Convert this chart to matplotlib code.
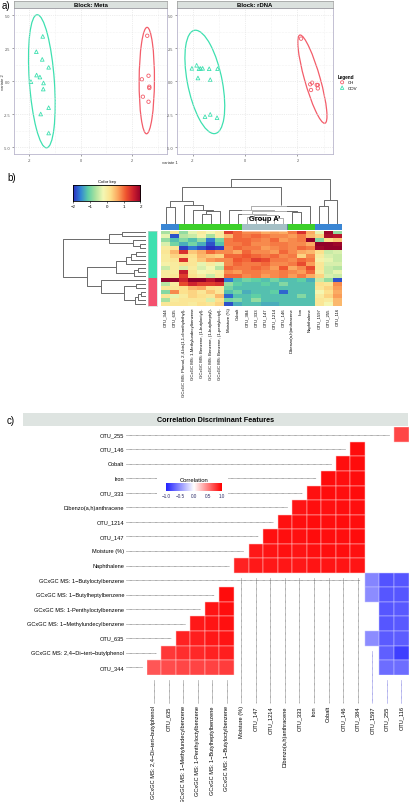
import numpy as np
import matplotlib
matplotlib.use('Agg')
import matplotlib.pyplot as plt
from matplotlib.patches import Ellipse, Rectangle
from matplotlib.colors import LinearSegmentedColormap, ListedColormap, Normalize
from matplotlib.transforms import blended_transform_factory

plt.rcParams['font.family'] = ['Liberation Sans', 'DejaVu Sans']

W, H = 410, 803

# ---------------- data : panel a ----------------
meta_cov_x = [-1.48, -1.73, -1.50, -1.25, -1.72, -1.59, -1.45, -1.94, -1.46, -1.25, -1.56, -1.25]
meta_cov_y = [3.38, 2.22, 1.64, 1.04, 0.45, 0.30, -0.15, -0.05, -0.61, -2.02, -2.50, -3.94]
meta_ch_x = [2.59, 2.64, 2.38, 2.67, 2.67, 2.42, 2.64]
meta_ch_y = [3.43, 0.40, 0.13, -0.43, -0.53, -1.19, -1.57]
rdna_cov_x = [-2.03, -1.85, -1.76, -1.62, -1.37, -1.05, -1.80, -1.33, -1.53, -1.33, -1.07, -1.70]
rdna_cov_y = [0.96, 1.19, 0.93, 0.96, 0.93, 0.93, 0.23, 0.10, -2.70, -2.53, -2.78, 0.95]
rdna_ch_x = [2.14, 2.49, 2.56, 2.74, 2.78, 2.52, 2.78]
rdna_ch_y = [3.21, -0.25, -0.13, -0.30, -0.56, -0.68, -0.30]

# ---------------- data : panel b ----------------
hm_cols = ['OTU_344', 'OTU_635', 'GCxGC MS: Phenol, 2,4-bis(1,1-dimethylethyl)-',
           'GCxGC MS: 1-Methylundecylbenzene', 'GCxGC MS: Benzene, (1-butyloctyl)-',
           'GCxGC MS: Benzene, (1-butylheptyl)-', 'GCxGC MS: Benzene, (1-pentyloctyl)-',
           'Moisture (%)', 'Cobalt', 'OTU_384', 'OTU_333', 'OTU_147', 'OTU_1214', 'OTU_146',
           'Dibenzo(a,h)anthracene', 'Iron', 'Naphthalene', 'OTU_1597', 'OTU_255', 'OTU_116']
hm_col_group = [0, 0, 1, 1, 1, 1, 1, 1, 1, 2, 2, 2, 2, 2, 1, 1, 1, 0, 0, 0]
hm_row_group = ['COV'] * 12 + ['CH'] * 7
hm_values = [
    [-0.7, 0.1, -0.8, -0.3, 0.0, -0.2, 0.0, 1.3, 1.0, 0.8, 0.8, 0.6, 0.7, 0.6, 0.9, 1.4, 0.6, -0.3, 1.9, -0.8],
    [-0.3, -1.8, -0.6, -0.5, -0.1, -0.7, 0.0, 0.5, 1.0, 0.9, 1.0, 0.9, 0.8, 0.8, 0.7, 0.9, 0.5, 0.3, 1.8, 1.7],
    [-0.8, -1.2, -0.9, -1.2, -0.8, -1.6, -1.0, 0.9, 1.0, 1.0, 0.9, 0.8, 1.0, 0.7, 0.8, 0.9, 2.0, -0.9, 0.2, 0.4],
    [-0.4, -1.0, -1.3, -1.0, -1.3, -1.8, -1.2, 0.9, 0.9, 1.0, 0.8, 0.8, 0.9, 0.9, 0.8, 0.8, 0.6, 2.0, 2.0, 1.9],
    [0.0, 0.1, -1.9, -1.6, -1.8, -2.0, -1.9, 0.8, 1.0, 0.9, 0.9, 0.7, 0.8, 0.9, 0.8, 1.0, 0.9, 1.9, 2.0, 2.0],
    [0.1, 0.5, 1.4, 0.4, 0.6, 1.0, 0.8, 0.8, 0.6, 1.0, 0.8, 0.8, 0.7, 1.0, 0.8, 0.6, 0.5, 0.2, -0.5, -0.4],
    [0.0, 0.3, 0.3, 0.2, 0.5, 0.4, 0.3, 1.0, 1.0, 1.1, 1.0, 0.9, 1.0, 0.8, 0.9, 0.3, 0.8, 0.0, -0.4, -0.5],
    [0.0, 0.1, 1.4, 0.1, 0.4, 0.7, 0.8, 0.8, 1.1, 1.0, 1.3, 1.2, 0.9, 0.9, 0.8, 1.0, 0.9, -0.1, -0.3, -0.5],
    [-0.1, 0.0, 0.2, 0.1, -0.3, 0.0, -0.3, 0.8, 1.0, 0.9, 0.9, 1.0, 0.8, 0.8, 0.9, 1.2, 0.7, 0.1, -0.4, -0.4],
    [-0.5, 0.0, -0.4, 0.0, -0.4, -0.2, -0.6, 1.0, 0.9, 0.9, 1.0, 0.9, 0.7, 1.1, 0.6, 0.8, 1.2, 0.1, -0.5, -0.6],
    [0.0, 0.0, 1.6, 0.1, -0.2, -0.1, 0.0, 0.8, 0.7, 0.9, 0.9, 0.8, 0.8, 0.9, 0.8, 0.7, 1.0, 0.0, -0.5, -0.3],
    [0.0, 0.1, 1.3, 0.2, 0.0, -0.5, 0.1, 1.0, 1.0, 0.8, 0.9, 0.7, 0.8, 0.9, 0.7, 0.9, 0.6, 0.3, -0.4, -0.5],
    [2.0, 2.0, 1.5, 2.2, 2.0, 1.7, 2.0, -1.6, -1.2, -1.0, -1.1, -1.2, -1.0, -1.2, -1.2, -1.1, -1.3, -0.5, -0.8, -1.8],
    [-0.6, 0.0, 1.2, 1.5, 1.3, 1.3, 1.4, -0.8, -1.1, -1.2, -1.2, -1.1, -1.2, -0.9, -1.2, -1.2, -1.2, 0.2, 0.1, 0.8],
    [0.1, 0.1, 0.2, 0.5, 0.6, 0.2, 0.1, -1.0, -1.2, -1.2, -1.2, -1.2, -1.2, -1.2, -1.2, -1.2, -1.2, 0.1, 0.3, 0.7],
    [-0.9, 0.8, 0.2, 0.3, 0.1, 0.4, 0.1, -1.2, -1.0, -1.3, -1.2, -1.2, -1.1, -1.7, -1.2, -1.2, -1.2, -0.2, 0.2, 0.6],
    [0.1, -0.3, 0.0, 0.3, 0.2, 0.1, 0.5, -1.7, -1.2, -1.2, -1.1, -1.2, -1.2, -1.2, -1.2, -0.9, -1.2, 0.0, 0.3, 0.7],
    [-0.7, 0.0, 0.1, 0.1, 0.1, -0.4, 0.2, -1.0, -0.9, -1.2, -0.8, -1.2, -1.2, -1.2, -1.2, -1.2, -1.2, 0.1, 0.0, 0.5],
    [0.1, 0.1, 0.1, 0.0, 0.2, 0.1, 0.3, -1.8, -1.3, -1.2, -1.2, -1.3, -1.3, -1.2, -1.2, -1.2, -1.2, 0.1, -0.2, 0.5],
]
# dendrograms: (child a, child b, height); leaves 0..n-1, merged nodes n, n+1, ...
col_tree = [(4, 5, 0.22), (20, 6, 0.27), (3, 21, 0.31), (2, 22, 0.41), (0, 1, 0.37),
            (24, 23, 0.50), (10, 11, 0.11), (9, 26, 0.15), (12, 13, 0.13), (27, 28, 0.19),
            (8, 29, 0.22), (14, 15, 0.25), (30, 31, 0.27), (7, 32, 0.30), (33, 16, 0.385),
            (25, 34, 0.815), (17, 18, 0.385), (36, 19, 0.533), (35, 37, 1.0)]
row_tree = [(0, 1, 0.29), (3, 4, 0.08), (2, 20, 0.16), (19, 21, 0.45), (5, 6, 0.12),
            (23, 7, 0.18), (24, 8, 0.25), (9, 10, 0.10), (26, 11, 0.15), (25, 27, 0.37),
            (13, 14, 0.12), (15, 16, 0.06), (30, 17, 0.10), (31, 18, 0.14), (29, 32, 0.27),
            (12, 33, 0.55), (28, 34, 0.71), (22, 35, 1.0)]

# ---------------- data : panel c ----------------
cr_rows = ['OTU_255', 'OTU_146', 'Cobalt', 'Iron', 'OTU_333', 'Dibenzo(a,h)anthracene',
           'OTU_1214', 'OTU_147', 'Moisture (%)', 'Naphthalene',
           'GCxGC MS: 1\u2212Butyloctylbenzene', 'GCxGC MS: 1\u2212Butylheptylbenzene',
           'GCxGC MS: 1-Penthyloctylbenzene', 'GCxGC MS: 1\u2212Methylundecylbenzene',
           'OTU_635', 'GCxGC MS: 2,4\u2212Di\u2212tert\u2212butylphenol', 'OTU_344']
cr_cols = ['GCxGC MS: 2,4\u2212Di\u2212tert\u2212butylphenol', 'OTU_635',
           'GCxGC MS: 1\u2212Methylundecylbenzene', 'GCxGC MS: 1-Penthyloctylbenzene',
           'GCxGC MS: 1\u2212Butylheptylbenzene', 'GCxGC MS: 1\u2212Butyloctylbenzene',
           'Moisture (%)', 'OTU_147', 'OTU_1214', 'Dibenzo(a,h)anthracene', 'OTU_333', 'Iron',
           'Cobalt', 'OTU_146', 'OTU_384', 'OTU_1597', 'OTU_255', 'OTU_116']
_ = np.nan
cr_values = [
    [_, _, _, _, _, _, _, _, _, _, _, _, _, _, _, _, _, 0.72],
    [_, _, _, _, _, _, _, _, _, _, _, _, _, _, 0.95, _, _, _],
    [_, _, _, _, _, _, _, _, _, _, _, _, _, 0.94, 0.95, _, _, _],
    [_, _, _, _, _, _, _, _, _, _, _, _, 0.95, 0.94, 0.95, _, _, _],
    [_, _, _, _, _, _, _, _, _, _, _, 0.93, 0.95, 0.94, 0.95, _, _, _],
    [_, _, _, _, _, _, _, _, _, _, 0.92, 0.94, 0.93, 0.94, 0.94, _, _, _],
    [_, _, _, _, _, _, _, _, _, 0.93, 0.94, 0.95, 0.94, 0.95, 0.94, _, _, _],
    [_, _, _, _, _, _, _, _, 0.93, 0.94, 0.93, 0.95, 0.94, 0.94, 0.95, _, _, _],
    [_, _, _, _, _, _, _, 0.90, 0.92, 0.93, 0.92, 0.93, 0.94, 0.94, 0.93, _, _, _],
    [_, _, _, _, _, _, 0.86, 0.90, 0.90, 0.91, 0.90, 0.92, 0.92, 0.92, 0.92, _, _, _],
    [_, _, _, _, _, _, _, _, _, _, _, _, _, _, _, -0.55, -0.78, -0.76],
    [_, _, _, _, _, 0.95, _, _, _, _, _, _, _, _, _, -0.52, -0.76, -0.76],
    [_, _, _, _, 0.92, 0.94, _, _, _, _, _, _, _, _, _, _, -0.76, -0.75],
    [_, _, _, 0.90, 0.92, 0.93, _, _, _, _, _, _, _, _, _, _, -0.76, -0.75],
    [_, _, 0.86, 0.88, 0.90, 0.92, _, _, _, _, _, _, _, _, _, -0.52, -0.74, -0.73],
    [_, 0.78, 0.82, 0.84, 0.86, 0.88, _, _, _, _, _, _, _, _, _, _, -0.72, -0.86],
    [0.66, 0.70, 0.72, 0.73, 0.74, 0.76, _, _, _, _, _, _, _, _, _, _, -0.66, -0.66],
]

C_CH = '#f35d6a'
C_COV = '#3ee0b0'


def box(x0, y0, x1, y1):
    return [x0 / W, 1 - y1 / H, (x1 - x0) / W, (y1 - y0) / H]


def fig_xy(x, y):
    return x / W, 1 - y / H


def conf_ellipse(ax, x, y, color):
    x = np.asarray(x)
    y = np.asarray(y)
    vals, vecs = np.linalg.eigh(np.cov(x, y))
    t = np.sqrt(5.991)
    ang = np.degrees(np.arctan2(vecs[1, 1], vecs[0, 1]))
    ax.add_patch(Ellipse((x.mean(), y.mean()), 2 * t * np.sqrt(vals[1]), 2 * t * np.sqrt(vals[0]),
                         angle=ang, fill=False, ec=color, lw=0.9))


def draw_tree(ax, merges, n, vertical=True, color='#6a6a6a'):
    pos = {i: i + 0.5 for i in range(n)}
    hgt = {i: 0.0 for i in range(n)}
    for k, (a, b, h) in enumerate(merges):
        xs = [pos[a], pos[a], pos[b], pos[b]]
        ys = [hgt[a], h, h, hgt[b]]
        if vertical:
            ax.plot(xs, ys, color=color, lw=0.7, solid_capstyle='butt')
        else:
            ax.plot(ys, xs, color=color, lw=0.7, solid_capstyle='butt')
        pos[n + k] = (pos[a] + pos[b]) / 2
        hgt[n + k] = h


fig = plt.figure(figsize=(W / 100, H / 100), dpi=100)

# ======================= panel a =======================
blocks = [('Block: Meta', meta_cov_x, meta_cov_y, meta_ch_x, meta_ch_y, 14, 167),
          ('Block: rDNA', rdna_cov_x, rdna_cov_y, rdna_ch_x, rdna_ch_y, 177, 333)]
for name, cx, cy, hx, hy, x0, x1 in blocks:
    ax = fig.add_axes(box(x0, 9.3, x1, 155))
    ax.set_xlim(-2.6, 3.36)
    ax.set_ylim(-5.53, 5.51)
    ax.set_xticks([-2, 0, 2])
    ax.set_xticklabels(['-2', '0', '2'])
    ax.set_yticks([-5, -2.5, 0, 2.5, 5])
    ax.set_yticklabels(['-5.0', '-2.5', '0.0', '2.5', '5.0'])
    ax.set_xticks([-1, 1, 3], minor=True)
    ax.set_yticks([-3.75, -1.25, 1.25, 3.75], minor=True)
    ax.grid(True, which='major', color='#dcdcdc', lw=0.5, ls=':')
    ax.grid(True, which='minor', color='#e8e8e8', lw=0.4, ls=':')
    ax.tick_params(which='both', labelsize=2.8, length=1.2, width=0.4, pad=1.5,
                   colors='#555555')
    ax.tick_params(which='minor', length=0)
    for s in ax.spines.values():
        s.set_color('#b9b6cc')
        s.set_linewidth(0.6)
    ax.scatter(cx, cy, marker='^', facecolors='none', edgecolors=C_COV, s=7, lw=0.6)
    ax.scatter(hx, hy, marker='o', facecolors='none', edgecolors=C_CH, s=6, lw=0.6)
    conf_ellipse(ax, cx, cy, C_COV)
    conf_ellipse(ax, hx, hy, C_CH)
    st = fig.add_axes(box(x0, 2, x1, 9.3))
    st.set_facecolor('#dbe1de')
    st.set_xticks([])
    st.set_yticks([])
    for s in st.spines.values():
        s.set_color('#9a9a9a')
        s.set_linewidth(0.5)
    st.text(0.5, 0.5, name, ha='center', va='center', fontsize=4.3, fontweight='bold',
            transform=st.transAxes)

fig.text(*fig_xy(170, 163), 'variate 1', fontsize=3, ha='center', va='center', color='#333333')
fig.text(*fig_xy(3, 82), 'variate 2', fontsize=3, ha='center', va='center', rotation=90,
         color='#333333')
fig.text(*fig_xy(2, 6), 'a)', fontsize=7, ha='left', va='center')

lg = fig.add_axes(box(336, 74, 370, 92))
lg.axis('off')
lg.set_xlim(0, 1)
lg.set_ylim(3, 0)
lg.text(0.05, 0.6, 'Legend', fontsize=3.3, fontweight='bold', va='center')
lg.scatter([0.18], [1.55], marker='o', facecolors='none', edgecolors=C_CH, s=5, lw=0.6)
lg.scatter([0.18], [2.45], marker='^', facecolors='none', edgecolors=C_COV, s=6, lw=0.6)
lg.text(0.34, 1.55, 'CH', fontsize=3.2, va='center')
lg.text(0.34, 2.45, 'COV', fontsize=3.2, va='center')

# ======================= panel b =======================
fig.text(*fig_xy(7, 178), 'b)', fontsize=7, ha='left', va='center')

hm_cmap = LinearSegmentedColormap.from_list(
    'key', ['#2c2cc0', '#3184d6', '#5fcfa6', '#aee3a0', '#f4f8b4', '#fde08b', '#fba35c',
            '#f0562f', '#cc1f2e', '#92002a'])

axH = fig.add_axes(box(161, 231.5, 341.7, 306.5))
axH.imshow(np.array(hm_values), aspect='auto', cmap=hm_cmap, vmin=-2, vmax=2,
           interpolation='nearest')
axH.set_yticks([])
axH.set_xticks(range(len(hm_cols)))
axH.set_xticklabels(hm_cols, rotation=90, fontsize=3.1)
axH.tick_params(axis='x', length=0, pad=1.2)
for s in axH.spines.values():
    s.set_visible(False)

group_cols = ListedColormap(['#3a86d4', '#3ccf2a', '#5c8d98'])
axCB = fig.add_axes(box(161, 224.7, 341.7, 230.6))
axCB.imshow(np.array([hm_col_group]), aspect='auto', cmap=group_cols, vmin=-0.5, vmax=2.5,
            interpolation='nearest')
axCB.axis('off')

axRB = fig.add_axes(box(147.7, 231.5, 156.7, 306.5))
row_idx = [[0 if g == 'COV' else 1] for g in hm_row_group]
axRB.imshow(np.array(row_idx), aspect='auto', cmap=ListedColormap([C_COV, '#f4506e']),
            vmin=-0.5, vmax=1.5, interpolation='nearest')
axRB.set_xticks([])
axRB.set_yticks([])
for s in axRB.spines.values():
    s.set_color('#d0d0d0')
    s.set_linewidth(0.4)

axCD = fig.add_axes(box(161, 179.5, 341.7, 224.7))
draw_tree(axCD, col_tree, len(hm_cols), vertical=True)
axCD.set_xlim(0, len(hm_cols))
axCD.set_ylim(0, 1.0)
axCD.axis('off')

axRD = fig.add_axes(box(63, 231.5, 146.5, 306.5))
draw_tree(axRD, row_tree, len(hm_row_group), vertical=False)
axRD.set_xlim(1.0, 0)
axRD.set_ylim(len(hm_row_group), 0)
axRD.axis('off')

# Group A' highlight
tr = blended_transform_factory(axH.transData, fig.transFigure)
y_top = 1 - 206 / H
y_bot = 1 - 233 / H
fig.add_artist(Rectangle((8.5, y_bot), 5, y_top - y_bot, transform=tr, facecolor='white',
                         alpha=0.45, edgecolor='none', zorder=5))
fig.text(11, 1 - 219.5 / H, "Group A'", transform=tr, fontsize=5.4, fontweight='bold',
         ha='center', va='center', zorder=6)

# color key
axK = fig.add_axes(box(73.3, 186, 140.5, 202))
axK.imshow(np.linspace(-2, 2, 256)[None, :], aspect='auto', cmap=hm_cmap, vmin=-2, vmax=2,
           extent=[-2, 2, 0, 1])
axK.set_yticks([])
axK.set_xticks([-2, -1, 0, 1, 2])
axK.set_xticklabels(['\u22122', '\u22121', '0', '1', '2'])
axK.tick_params(axis='x', labelsize=3.2, length=1.5, width=0.4, pad=1)
for s in axK.spines.values():
    s.set_linewidth(0.6)
axK.set_title('Color key', fontsize=3.2, pad=2)

# ======================= panel c =======================
fig.text(*fig_xy(7, 421), 'c)', fontsize=7, ha='left', va='center')
tt = fig.add_axes(box(23, 414, 408, 427))
tt.set_facecolor('#dee4e1')
tt.set_xticks([])
tt.set_yticks([])
for s in tt.spines.values():
    s.set_visible(False)
tt.text(0.5, 0.5, 'Correlation Discriminant Features', ha='center', va='center',
        fontsize=5.2, fontweight='bold', transform=tt.transAxes)

cr_cmap = LinearSegmentedColormap.from_list('cr', ['#2222ff', '#ffffff', '#ff0000'])
cr_norm = Normalize(-1, 1)
nr, nc = len(cr_rows), len(cr_cols)
CV = np.array(cr_values, dtype=float)
valid = ~np.isnan(CV)
axC = fig.add_axes(box(146.7, 428.3, 408.6, 675.7))
for i in range(nr):
    for j in range(nc):
        if valid[i, j]:
            axC.add_patch(Rectangle((j, i), 1, 1, facecolor=cr_cmap(cr_norm(CV[i, j])),
                                    edgecolor='#ffc8c8' if CV[i, j] > 0 else '#c8c8ff',
                                    lw=0.35))
axC.set_xlim(0, nc)
axC.set_ylim(nr, 0)
axC.axis('off')

for i, lab in enumerate(cr_rows):
    axC.text(-1.56, i + 0.5, lab, ha='right', va='center', fontsize=4.1, clip_on=False)
    first = np.argmax(valid[i])
    axC.plot([-1.42, first - 0.35], [i + 0.5, i + 0.5], color='#555555', lw=0.45,
             ls=(0, (1.2, 0.7)), clip_on=False)
for j, lab in enumerate(cr_cols):
    axC.text(j + 0.5, 19.1, lab, ha='center', va='top', rotation=90, fontsize=4.1,
             clip_on=False)
    last = nr - 1 - np.argmax(valid[::-1, j])
    neg = np.nanmean(CV[:, j]) < 0
    axC.plot([j + 0.5, j + 0.5], [last + 1.35, 18.95], color='#5a5ad8' if neg else '#555555',
             lw=0.45, ls=(0, (1.2, 0.7)), clip_on=False)

# correlation colour legend
lb = fig.add_axes(box(157, 470, 228, 501))
lb.set_facecolor('white')
lb.set_xticks([])
lb.set_yticks([])
for s in lb.spines.values():
    s.set_visible(False)
axL = fig.add_axes(box(166, 484, 222, 491.5))
axL.imshow(np.linspace(-1, 1, 256)[None, :], aspect='auto', cmap=cr_cmap, vmin=-1, vmax=1,
           extent=[-1, 1, 0, 1])
axL.set_yticks([])
axL.set_xticks([-1, -0.5, 0, 0.5, 1])
axL.set_xticklabels(['\u22121.0', '\u22120.5', '0.0', '0.5', '1.0'])
axL.tick_params(axis='x', labelsize=3.3, length=0, pad=1.5, colors='#2a2a66')
for s in axL.spines.values():
    s.set_visible(False)
axL.set_title('Correlation', fontsize=4.2, pad=1.5)

fig.savefig('out.png', dpi=100)
